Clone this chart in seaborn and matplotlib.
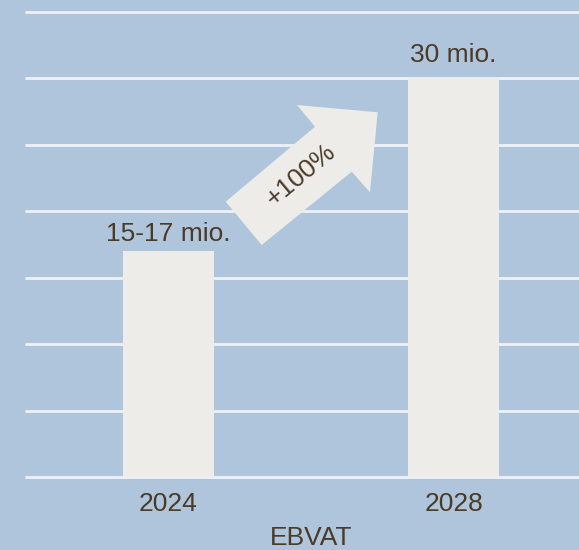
import matplotlib
matplotlib.use("Agg")
import matplotlib.pyplot as plt
import seaborn as sns
import pandas as pd
from matplotlib.patches import Polygon

years = ["2024", "2028"]
values = [17, 30]
labels = ["15-17 mio."]
labels.append("30 mio.")
xlabel = "EBVAT"
arrow_text = "+100%"

BG = "#afc5dc"
BAR = "#edece8"
TXT = "#4b3a27"

sns.set_theme(style="white")
plt.rcParams["font.family"] = ["Liberation Sans", "DejaVu Sans"]

df = pd.DataFrame({"year": years, "value": values})

fig = plt.figure(figsize=(5.79, 5.50), dpi=100, facecolor=BG)
ax = fig.add_axes([26/579, 1-477/550, 570/579, (477-12)/550])
ax.set_facecolor(BG)

sns.barplot(data=df, x="year", y="value", color=BAR, width=0.32,
            saturation=1, ax=ax, zorder=3, edgecolor="none")

ax.set_ylim(0, 35)
ax.set_yticks(range(0, 36, 5))
ax.yaxis.grid(True, color="#eef2f6", linewidth=2, zorder=0)
ax.set_axisbelow(True)
for gl in ax.get_ygridlines():
    gl.set_clip_on(False)
ax.set_xlim(-0.5, 1.5)
for s in ax.spines.values():
    s.set_visible(False)
ax.tick_params(axis="y", left=False, labelleft=False)
ax.tick_params(axis="x", bottom=False, labelsize=19, labelcolor=TXT, pad=5)
ax.set_ylabel("")
ax.set_xlabel(xlabel, fontsize=19, color=TXT, labelpad=7)

offs = [10, 16]
for i, (v, lab) in enumerate(zip(values, labels)):
    ax.annotate(lab, (i, v), xytext=(0, offs[i] * 72 / 100), textcoords="offset points",
                ha="center", va="baseline", fontsize=19, color=TXT)

# decorative arrow (figure pixel coordinates)
W, H = 579, 550
pts = [(225.7, 201.7), (315, 126.7), (297, 105), (377.7, 112.3),
       (370, 192.3), (351.7, 171.7), (261.7, 245)]
poly = Polygon([(x / W, 1 - y / H) for x, y in pts], closed=True,
               transform=fig.transFigure, facecolor=BAR, edgecolor="none", zorder=5)
fig.patches.append(poly)
fig.text(301 / W, 1 - 175 / H, arrow_text, rotation=40, ha="center", va="center",
         fontsize=19, color=TXT, zorder=6, rotation_mode="anchor")

fig.savefig("out.png", dpi=100, facecolor=BG)
